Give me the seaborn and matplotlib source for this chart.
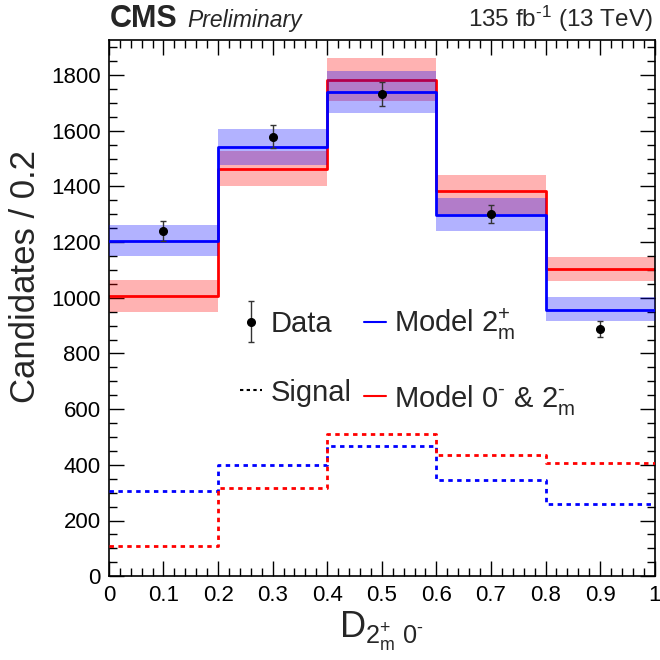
import numpy as np
import matplotlib
matplotlib.use("Agg")
import matplotlib.pyplot as plt
import seaborn as sns
from matplotlib.lines import Line2D
from matplotlib.legend_handler import HandlerErrorbar
from matplotlib.ticker import MultipleLocator

# Binning of the discriminant
bin_edges = [0.0, 0.2, 0.4, 0.6, 0.8, 1.0]
bin_centers = [0.1, 0.3, 0.5, 0.7, 0.9]
x_tick_labels = ["0", "0.1", "0.2", "0.3", "0.4", "0.5", "0.6", "0.7",
                 "0.8", "0.9", "1"]

# Observed candidates per bin
data_counts = [1240, 1579, 1732, 1302, 888]
data_errors = [36, 40, 42, 33, 30]

# Model 2+_m: total prediction and uncertainty band
model_2p = [1205, 1542, 1738, 1297, 957]
model_2p_lo = [1151, 1478, 1664, 1241, 915]
model_2p_hi = [1262, 1607, 1816, 1358, 1003]

# Model 0- & 2-_m: total prediction and uncertainty band
model_0m = [1007, 1461, 1782, 1382, 1104]
model_0m_lo = [950, 1400, 1708, 1301, 1061]
model_0m_hi = [1064, 1528, 1860, 1442, 1148]

# Signal components
signal_2p = [306, 399, 468, 347, 258]
signal_0m = [108, 316, 510, 437, 405]

sns.set_theme(style="ticks")
plt.rcParams["font.family"] = ["Liberation Sans", "DejaVu Sans"]
plt.rcParams["mathtext.fontset"] = "custom"
plt.rcParams["mathtext.rm"] = "Liberation Sans"
plt.rcParams["mathtext.it"] = "Liberation Sans:italic"
plt.rcParams["mathtext.bf"] = "Liberation Sans:bold"

BLUE = (0.0, 0.0, 1.0)
RED = (1.0, 0.0, 0.0)
HY = "\u2010"  # short hyphen used in superscripts

fig = plt.figure(figsize=(6.6, 6.6), dpi=100)
ax = fig.add_axes([0.165, 0.127, 0.827, 0.812])

width = np.diff(bin_edges)


def step_hist(values, color, ls, lw, z):
    sns.histplot(x=bin_centers, weights=values, bins=bin_edges, element="step",
                 fill=False, color=color, linestyle=ls, linewidth=lw, ax=ax,
                 zorder=z)


# Red model: band then line
ax.bar(bin_centers, np.subtract(model_0m_hi, model_0m_lo), bottom=model_0m_lo,
       width=width, color=RED, alpha=0.3, linewidth=0, zorder=1)
step_hist(model_0m, RED, "-", 2.0, 2)
# Blue model drawn on top
ax.bar(bin_centers, np.subtract(model_2p_hi, model_2p_lo), bottom=model_2p_lo,
       width=width, color=BLUE, alpha=0.3, linewidth=0, zorder=3)
step_hist(model_2p, BLUE, "-", 2.0, 4)

# Signal contributions
step_hist(signal_2p, BLUE, (0, (1.6, 1.6)), 2.0, 4)
step_hist(signal_0m, RED, (0, (1.6, 1.6)), 2.0, 4)

# Data points
eb = ax.errorbar(bin_centers, data_counts, yerr=data_errors, fmt="o",
                 color="black", ecolor="#333333", markersize=5.5,
                 elinewidth=1.0, capsize=2.0, capthick=1.0, zorder=6)

ax.set_xlim(0, 1)
ax.set_ylim(0, 1925)
ax.set_xticks(np.round(np.arange(0, 1.01, 0.1), 1))
ax.set_xticklabels(x_tick_labels)
ax.xaxis.set_minor_locator(MultipleLocator(0.02))
ax.yaxis.set_major_locator(MultipleLocator(200))
ax.yaxis.set_minor_locator(MultipleLocator(50))
ax.tick_params(which="both", direction="in", top=True, right=True,
               colors="black", labelsize=16, width=1.0)
ax.tick_params(which="major", length=11, pad=6)
ax.tick_params(which="minor", length=5.5)
for s in ax.spines.values():
    s.set_linewidth(1.2)
    s.set_color("black")

ax.set_ylabel("Candidates / 0.2", fontsize=25)
ax.yaxis.set_label_coords(-0.122, 0.56)
ax.set_xlabel(r"D$_{\mathregular{2^{+}_{m}\ 0^{" + HY + r"}}}$", fontsize=26)
ax.xaxis.set_label_coords(0.5, -0.062)

fig.text(0.167, 0.959, "CMS", fontsize=22, fontweight="bold", ha="left",
         va="baseline")
fig.text(0.284, 0.959, "Preliminary", fontsize=16.5, fontstyle="italic",
         ha="left", va="baseline")
fig.text(0.989, 0.959, r"135 fb$^{\mathregular{" + HY + r"1}}$ (13 TeV)",
         fontsize=17.5, ha="right", va="baseline")

handles = [
    eb,
    Line2D([], [], color="black", linestyle=(0, (1.6, 1.6)), linewidth=1.5),
    Line2D([], [], color=BLUE, linewidth=1.5),
    Line2D([], [], color=RED, linewidth=1.5),
]
labels = ["Data", "Signal", r"Model $\mathregular{2^{+}_{m}}$",
          r"Model $\mathregular{0^{" + HY + r"}}$ & $\mathregular{2^{" + HY
          + r"}_{m}}$"]
leg = ax.legend(handles, labels, ncol=2, loc="upper left",
                bbox_to_anchor=(0.193, 0.553), frameon=False, fontsize=21,
                handlelength=0.75, handletextpad=0.3, columnspacing=0.4,
                labelspacing=1.4,
                handler_map={type(eb): HandlerErrorbar(xerr_size=0,
                                                       yerr_size=0.7)})

fig.savefig("out.png", dpi=100)
